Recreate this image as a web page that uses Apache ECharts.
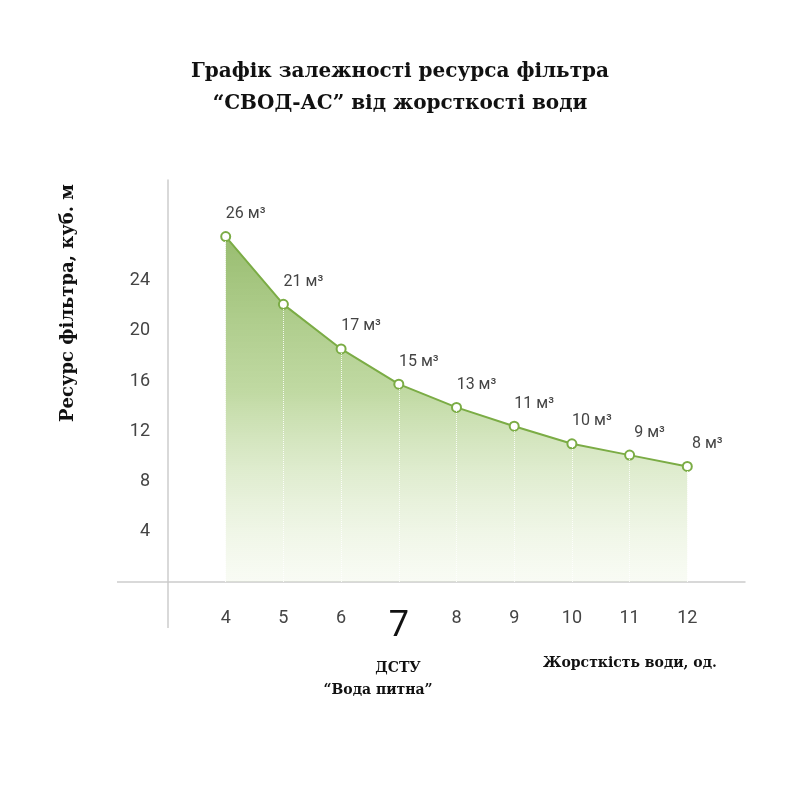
<!DOCTYPE html>
<html><head><meta charset="utf-8">
<script src="https://cdn.jsdelivr.net/npm/echarts@6/dist/echarts.min.js"></script>
<style>html,body{margin:0;background:#fff}#c{width:800px;height:800px}</style>
</head><body><div id="c"></div>
<script>
const hardness = [4, 5, 6, 7, 8, 9, 10, 11, 12];
const resource = [27.5, 22.1, 18.55, 15.75, 13.9, 12.4, 11.0, 10.1, 9.2];
const pointLabels = ['26 м³', '21 м³', '17 м³', '15 м³', '13 м³', '11 м³', '10 м³', '9 м³', '8 м³'];
const yTicks = [4, 8, 12, 16, 20, 24];

const serif = '"DejaVu Serif", "Liberation Serif", serif';
const chart = echarts.init(document.getElementById('c'));
chart.setOption({
  animation: false,
  title: {
    text: 'Графік залежності ресурса фільтра\n“СВОД-АС” від жорсткості води',
    left: 'center', top: 51,
    textStyle: { fontFamily: serif, fontWeight: 'bold', fontSize: 20, color: '#111', lineHeight: 32 }
  },
  grid: { left: 168, right: 55, top: 180, bottom: 218 },
  xAxis: {
    type: 'value', min: 3, max: 13, interval: 1,
    axisLine: { show: true, lineStyle: { color: '#ccc', width: 1.5 } },
    axisTick: { show: false }, splitLine: { show: false },
    axisLabel: {
      margin: 27,
      formatter: v => hardness.includes(v) ? (v === 7 ? '{b|7}' : String(v)) : '',
      color: '#444', fontSize: 18, fontFamily: 'Roboto, sans-serif',
      rich: { b: { fontSize: 36, color: '#111', fontFamily: 'Roboto, sans-serif', padding: [0,0,6,0] } }
    }
  },
  yAxis: {
    type: 'value', min: 0, max: 32, interval: 4,
    axisLine: { show: true, lineStyle: { color: '#ccc', width: 1.5 } },
    axisTick: { show: false }, splitLine: { show: false },
    axisLabel: {
      margin: 18, color: '#444', fontSize: 18, fontFamily: 'Roboto, sans-serif',
      formatter: v => yTicks.includes(v) ? String(v) : ''
    }
  },
  graphic: [
    { type: 'line', shape: { x1: 117, y1: 582, x2: 168, y2: 582 }, style: { stroke: '#ccc', lineWidth: 1.5 } },
    { type: 'line', shape: { x1: 168, y1: 582, x2: 168, y2: 628 }, style: { stroke: '#ccc', lineWidth: 1.5 } },
    { type: 'text', rotation: Math.PI / 2, x: 68, y: 303,
      style: { text: 'Ресурс фільтра, куб. м', font: 'bold 18px ' + serif, fill: '#111', align: 'center', verticalAlign: 'middle' } },
    { type: 'text', x: 398, y: 668,
      style: { text: 'ДСТУ', font: 'bold 14px ' + serif, fill: '#111', align: 'center', verticalAlign: 'middle' } },
    { type: 'text', x: 378, y: 690,
      style: { text: '“Вода питна”', font: 'bold 14px ' + serif, fill: '#111', align: 'center', verticalAlign: 'middle' } },
    { type: 'text', x: 630, y: 663,
      style: { text: 'Жорсткість води, од.', font: 'bold 14px ' + serif, fill: '#111', align: 'center', verticalAlign: 'middle' } }
  ],
  series: [{
    type: 'line',
    data: hardness.map((h, i) => [h, resource[i]]),
    symbol: 'circle', symbolSize: 9,
    itemStyle: { color: '#fff', borderColor: '#7bac45', borderWidth: 2 },
    lineStyle: { color: '#7bac45', width: 2 },
    areaStyle: {
      color: new echarts.graphic.LinearGradient(0, 0, 0, 1, [
        { offset: 0, color: 'rgba(108,160,50,1)' },
        { offset: 0.45, color: 'rgba(150,192,100,0.85)' },
        { offset: 1, color: 'rgba(225,238,205,0.3)' }
      ])
    },
    label: {
      show: true, position: 'top', distance: 9, offset: [20, 0], color: '#444', fontSize: 16,
      fontFamily: 'Roboto, sans-serif',
      formatter: p => pointLabels[p.dataIndex]
    },
    markLine: {
      silent: true, symbol: 'none', label: { show: false },
      lineStyle: { color: 'rgba(255,255,255,0.85)', type: 'dotted', width: 1 },
      data: hardness.map((h, i) => [{ coord: [h, 0] }, { coord: [h, resource[i]] }])
    },
    z: 3
  }]
});
</script></body></html>
